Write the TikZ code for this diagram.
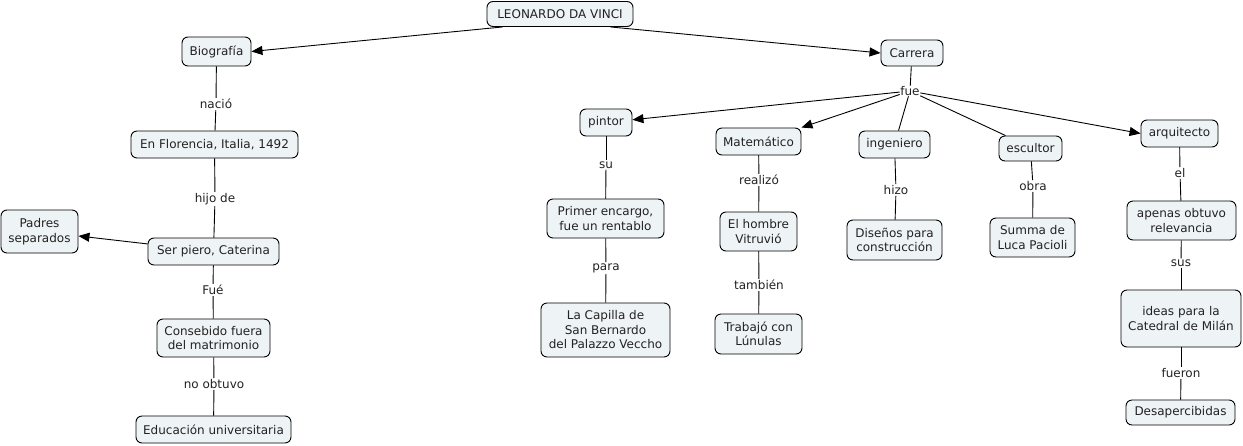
\documentclass[tikz,border=0pt]{standalone}
\usepackage{fontspec}
\setmainfont{DejaVu Sans}
\usetikzlibrary{arrows.meta}
\definecolor{cfill}{HTML}{EEF3F5}
\definecolor{ctext}{HTML}{222222}
\tikzset{
  concept/.style={draw=black, line width=0.9pt, fill=cfill, rounded corners=6pt,
    align=center, inner sep=0pt, text=ctext, font=\fontsize{12}{14.5}\selectfont},
  linklabel/.style={fill=white, inner sep=1pt, text=ctext, font=\fontsize{12}{14.5}\selectfont},
  conn/.style={draw=black, line width=0.9pt},
  arr/.style={conn, -{Triangle[length=11pt,width=9pt]}},
}
\newcommand{\cnode}[5]{\node[concept, minimum width=#4, minimum height=#5] (#1) at (#2) {#3};}
\begin{document}
\begin{tikzpicture}[x=1pt,y=-1pt]
\useasboundingbox (0,0) rectangle (1243,445);
% concepts
\cnode{leo}{560,14}{LEONARDO DA VINCI}{146pt}{25pt}
\cnode{bio}{216.5,51.5}{Biografía}{69pt}{29pt}
\cnode{car}{912,53}{Carrera}{62pt}{26pt}
\cnode{flo}{214.5,144.5}{En Florencia, Italia, 1492}{167pt}{27pt}
\cnode{ser}{213.5,251.5}{Ser piero, Caterina}{131pt}{27pt}
\cnode{pad}{39.5,231.5}{Padres\\separados}{77pt}{43pt}
\cnode{con}{213.5,338}{Consebido fuera\\del matrimonio}{113pt}{38pt}
\cnode{edu}{213.5,429.5}{Educación universitaria}{155pt}{27pt}
\cnode{pin}{606,122.5}{pintor}{52pt}{27pt}
\cnode{pri}{605.5,218.5}{Primer encargo,\\fue un rentablo}{117pt}{39pt}
\cnode{cap}{605.5,330}{La Capilla de\\San Bernardo\\del Palazzo Veccho}{129pt}{54pt}
\cnode{mat}{758.5,141.5}{Matemático}{85pt}{27pt}
\cnode{hom}{758.5,231.5}{El hombre\\Vitruvió}{77pt}{39pt}
\cnode{tra}{758.5,334}{Trabajó con\\Lúnulas}{87pt}{40pt}
\cnode{ing}{894.5,144.5}{ingeniero}{71pt}{27pt}
\cnode{dis}{894.5,240}{Diseños para\\construcción}{95pt}{40pt}
\cnode{esc}{1030.5,148.5}{escultor}{63pt}{25pt}
\cnode{sum}{1032.5,237.5}{Summa de\\Luca Pacioli}{85pt}{39pt}
\cnode{arq}{1179.5,133.5}{arquitecto}{77pt}{27pt}
\cnode{ape}{1181.5,220.5}{apenas obtuvo\\relevancia}{109pt}{39pt}
\cnode{ide}{1181,318.5}{ideas para la\\Catedral de Milán}{120pt}{57pt}
\cnode{des}{1180.5,412.5}{Desapercibidas}{109pt}{25pt}
% link labels
\node[linklabel] (l1) at (216,104) {nació};
\node[linklabel] (l2) at (215,199) {hijo de};
\node[linklabel] (l3) at (213,290) {Fué};
\node[linklabel] (l4) at (214,384) {no obtuvo};
\node[linklabel, inner sep=0.5pt] (lf) at (910,91) {fue};
\node[linklabel] (l5) at (606,165) {su};
\node[linklabel] (l6) at (606,268) {para};
\node[linklabel] (l7) at (759,180) {realizó};
\node[linklabel] (l8) at (759,285) {también};
\node[linklabel] (l9) at (896,190) {hizo};
\node[linklabel] (l10) at (1033,186) {obra};
\node[linklabel] (l11) at (1180,173) {el};
\node[linklabel] (l12) at (1181,263) {sus};
\node[linklabel] (l13) at (1181,373) {fueron};
% connectors
\draw[arr] ([xshift=16pt]leo.south west) -- (bio.east);
\draw[arr] ([xshift=-23pt]leo.south east) -- (car.west);
\draw[conn] (bio) -- (l1); \draw[conn] (l1) -- (flo);
\draw[conn] (flo) -- (l2); \draw[conn] (l2) -- (ser);
\draw[arr] (ser) -- (pad);
\draw[conn] (ser) -- (l3); \draw[conn] (l3) -- (con);
\draw[conn] (con) -- (l4); \draw[conn] (l4) -- (edu);
\draw[conn] (car) -- (lf);
\draw[arr] (lf) -- (pin);
\draw[arr] (lf) -- (mat.north east);
\draw[conn] (lf) -- (ing);
\draw[conn] (lf) -- ([xshift=7pt]esc.north west);
\draw[arr] (lf) -- (arq.west);
\draw[conn] (pin) -- (l5); \draw[conn] (l5) -- (pri);
\draw[conn] (pri) -- (l6); \draw[conn] (l6) -- (cap);
\draw[conn] (mat) -- (l7); \draw[conn] (l7) -- (hom);
\draw[conn] (hom) -- (l8); \draw[conn] (l8) -- (tra);
\draw[conn] (ing) -- (l9); \draw[conn] (l9) -- (dis);
\draw[conn] (esc) -- (l10); \draw[conn] (l10) -- (sum);
\draw[conn] (arq) -- (l11); \draw[conn] (l11) -- (ape);
\draw[conn] (ape) -- (l12); \draw[conn] (l12) -- (ide);
\draw[conn] (ide) -- (l13); \draw[conn] (l13) -- (des);
\end{tikzpicture}
\end{document}
